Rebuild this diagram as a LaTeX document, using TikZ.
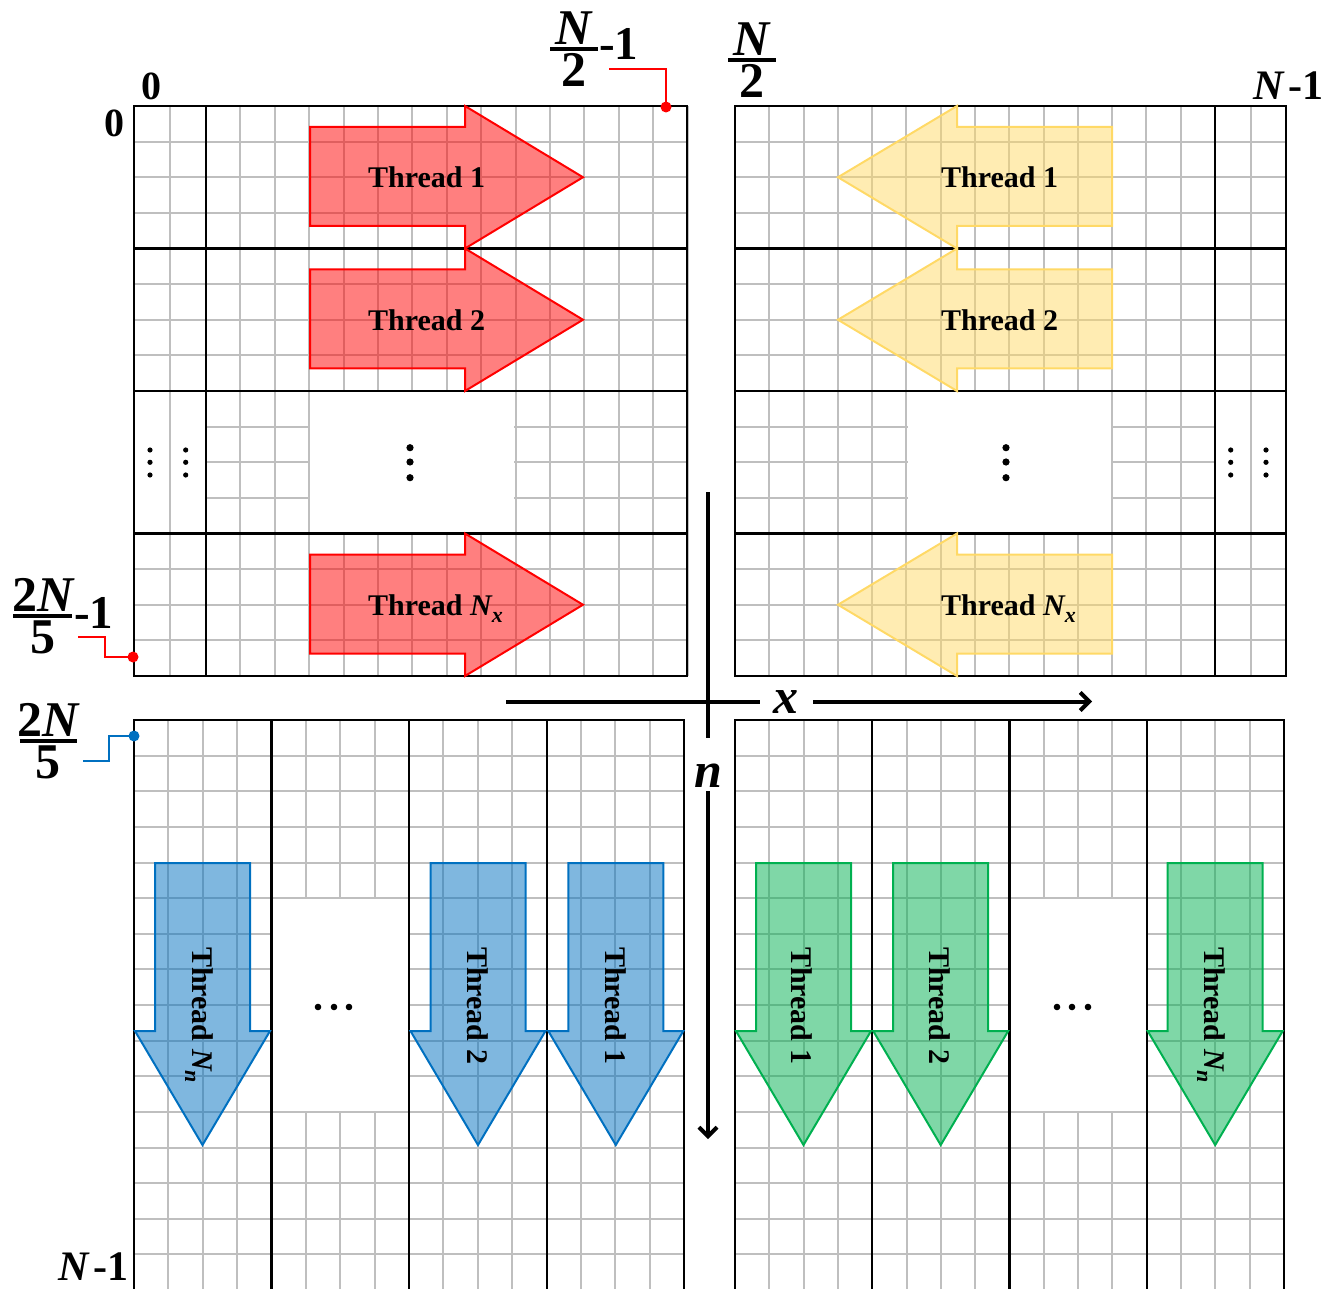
\documentclass[tikz,border=0pt]{standalone}
\usepackage{fontspec}
\setmainfont{Liberation Serif}
\usetikzlibrary{arrows.meta}
\definecolor{gridgray}{HTML}{BFBFBF}
\definecolor{redS}{HTML}{FF0000}
\definecolor{yelS}{HTML}{FFD966}
\definecolor{bluS}{HTML}{0070C0}
\definecolor{grnS}{HTML}{00B050}
\newcommand\RedArr[1]{\draw[redarr] (310,#1+21) -- (465,#1+21) -- (465,#1) -- (583,#1+71.25) -- (465,#1+142.5) -- (465,#1+120) -- (310,#1+120) -- cycle;}
\newcommand\YelArr[1]{\draw[yelarr] (1112,#1+21) -- (957,#1+21) -- (957,#1) -- (838,#1+71.25) -- (957,#1+142.5) -- (957,#1+120) -- (1112,#1+120) -- cycle;}
\newcommand\DownArr[2]{\draw[#2] (#1+21,863) -- (#1+116,863) -- (#1+116,1031) -- (#1+136,1031) -- (#1+68.5,1145) -- (#1+1,1031) -- (#1+21,1031) -- cycle;}
\newcommand\SubTx[1]{\raisebox{-7pt}{\fontsize{22}{26}\selectfont\bfseries\itshape #1}}
\newcommand\BI{\bfseries\itshape}
\newcommand\FracT[3]{\vbox{\offinterlineskip\halign{\hfil##\hfil\cr
  #1\cr
  \noalign{\kern2.5pt}
  \vrule height 4pt depth 0pt width #3\cr
  \noalign{\kern2.5pt}
  #2\cr}}}
\begin{document}
\begin{tikzpicture}[x=1pt,y=-1pt,
  grd/.style={draw=gridgray,line width=2pt},
  blk/.style={draw=black,line width=2.2pt},
  redarr/.style={draw=redS,fill=redS,fill opacity=0.5,line width=2pt},
  yelarr/.style={draw=yelS,fill=yelS,fill opacity=0.5,line width=2pt},
  bluarr/.style={draw=bluS,fill=bluS,fill opacity=0.5,line width=2pt},
  grnarr/.style={draw=grnS,fill=grnS,fill opacity=0.5,line width=2pt},
  thr/.style={inner sep=0pt,font=\fontsize{30}{36}\selectfont\bfseries},
  lab/.style={inner sep=0pt,text height=27pt,text depth=0pt,font=\fontsize{40}{48}\selectfont\bfseries},
  fracl/.style={inner sep=0pt,font=\fontsize{50}{58}\selectfont\bfseries},
  minus/.style={inner sep=0pt,text height=30pt,text depth=0pt,font=\fontsize{47}{54}\selectfont\bfseries},
  axl/.style={inner sep=0pt,text height=24pt,text depth=0pt,font=\fontsize{50}{60}\selectfont\bfseries\itshape},
  axis/.style={line width=4pt},
  conn/.style={line width=2.5pt}]
\useasboundingbox (0,0) rectangle (1342,1289);
% ---------- grids ----------
\foreach \i in {0,...,16}{\pgfmathsetmacro\xx{\i<3 ? 134+36*\i : 206+34.4*(\i-2)}\draw[grd] (\xx,106) -- (\xx,676);}
\foreach \j in {0,...,16}{\pgfmathsetmacro\yy{106+35.625*\j}\draw[grd] (134,\yy) -- (687,\yy);}
\foreach \i in {0,...,16}{\pgfmathsetmacro\xx{\i<15 ? 735+34.29*\i : 1215+35.5*(\i-14)}\draw[grd] (\xx,106) -- (\xx,676);}
\foreach \j in {0,...,16}{\pgfmathsetmacro\yy{106+35.625*\j}\draw[grd] (735,\yy) -- (1286,\yy);}
\foreach \i in {0,...,16}{\pgfmathsetmacro\xx{134+34.375*\i}\draw[grd] (\xx,720) -- (\xx,1295);}
\foreach \j in {0,...,16}{\pgfmathsetmacro\yy{720+35.625*\j}\draw[grd] (134,\yy) -- (684,\yy);}
\foreach \i in {0,...,16}{\pgfmathsetmacro\xx{735+34.31*\i}\draw[grd] (\xx,720) -- (\xx,1295);}
\foreach \j in {0,...,16}{\pgfmathsetmacro\yy{720+35.625*\j}\draw[grd] (735,\yy) -- (1284,\yy);}
% ---------- blank areas ----------
\fill[white] (310.4,392.2) rectangle (514.4,532.3);
\fill[white] (135.2,392.2) rectangle (204.8,532.3);
\draw[grd] (170,391) -- (170,533.5);
\fill[white] (907.6,392.2) rectangle (1111,532.3);
\fill[white] (1216.3,392.2) rectangle (1284.8,532.3);
\draw[grd] (1250.5,391) -- (1250.5,533.5);
\fill[white] (272.7,899.3) rectangle (407.8,1110.7);
\fill[white] (1010.7,899.3) rectangle (1145.5,1110.7);
% ---------- black frames ----------
\draw[blk] (134,106) rectangle (687,676);
\foreach \y in {248.5,391,533.5} \draw[blk] (134,\y) -- (687,\y);
\draw[blk] (206,106) -- (206,676);
\draw[blk] (735,106) rectangle (1286,676);
\foreach \y in {248.5,391,533.5} \draw[blk] (735,\y) -- (1286,\y);
\draw[blk] (1215,106) -- (1215,676);
\draw[blk] (134,1295) -- (134,720) -- (684,720) -- (684,1295);
\foreach \x in {271.5,409,546.6} \draw[blk] (\x,720) -- (\x,1295);
\draw[blk] (735,1295) -- (735,720) -- (1284,720) -- (1284,1295);
\foreach \x in {872.2,1009.5,1146.7} \draw[blk] (\x,720) -- (\x,1295);
% ---------- arrows ----------
\RedArr{106}
\RedArr{248.5}
\RedArr{533.5}
\YelArr{106}
\YelArr{248.5}
\YelArr{533.5}
\DownArr{134}{bluarr}
\DownArr{409.5}{bluarr}
\DownArr{547.3}{bluarr}
\DownArr{735}{grnarr}
\DownArr{872.2}{grnarr}
\DownArr{1146.7}{grnarr}
% ---------- thread labels ----------
\node[thr,anchor=base west] (r1) at (368,188) {Thread 1};
\node[thr,anchor=base west] (r2) at (368,330.5) {Thread 2};
\node[thr,anchor=base west] (r3) at (368,615.5) {Thread {\BI N}\SubTx{x}};
\node[thr,anchor=base west] (y1) at (941,188) {Thread 1};
\node[thr,anchor=base west] (y2) at (941,330.5) {Thread 2};
\node[thr,anchor=base west] (y3) at (941,615.5) {Thread {\BI N}\SubTx{x}};
\node[thr,rotate=-90,anchor=base west] (b1) at (192,947) {Thread {\BI N}\SubTx{n}};
\node[thr,rotate=-90,anchor=base west] (b2) at (467,947) {Thread 2};
\node[thr,rotate=-90,anchor=base west] (b3) at (605,947) {Thread 1};
\node[thr,rotate=-90,anchor=base west] (g1) at (791,947) {Thread 1};
\node[thr,rotate=-90,anchor=base west] (g2) at (929,947) {Thread 2};
\node[thr,rotate=-90,anchor=base west] (g3) at (1204,947) {Thread {\BI N}\SubTx{n}};
% ---------- dots ----------
\foreach \y in {447.7,462,477.7}{\fill (410,\y) circle (3.6); \fill (1006,\y) circle (3.6);}
\foreach \y in {450,462.3,475}{\foreach \x in {150,185.7,1230.7,1266}{\fill (\x,\y) circle (2.6);}}
\foreach \x in {318,334,349}{\fill (\x,1007) circle (3.3);}
\foreach \x in {1057,1072,1088}{\fill (\x,1007) circle (3.3);}
% ---------- index labels ----------
\node[lab,anchor=base] (z1) at (151,100) {0};
\node[lab,anchor=base] (z2) at (114,137) {0};
\node[lab,font=\fontsize{42}{50}\selectfont\bfseries,anchor=base east] (ntr) at (1324,100) {{\itshape N}\hspace{0.12em}-1};
\node[lab,font=\fontsize{42}{50}\selectfont\bfseries,anchor=base east] (nbl) at (129,1280) {{\itshape N}\hspace{0.12em}-1};
% N/2 - 1
\node[fracl,anchor=base] (f1) at (574,87) {\FracT{\itshape N}{2}{48pt}};
\node[minus,anchor=base west] (f1m) at (599,60) {-1};
\coordinate (p1a) at (609,69);
\coordinate (p1b) at (666,107);
\draw[conn,redS] (p1a) -| (p1b);
\fill[redS] (p1b) circle (5.5);
% N/2
\node[fracl,anchor=base] (f2) at (752,98) {\FracT{\itshape N}{2}{48pt}};
% 2N/5 - 1
\node[fracl,anchor=base] (f3) at (43,653) {\FracT{2{\itshape N}}{5}{59pt}};
\node[minus,anchor=base west] (f3m) at (74,628) {-1};
\coordinate (p3a) at (78,637);
\coordinate (p3m) at (105,647);
\coordinate (p3b) at (133,657);
\draw[conn,redS] (p3a) -| (p3m) |- (p3b);
\fill[redS] (p3b) circle (5.5);
% 2N/5
\node[fracl,anchor=base] (f4) at (48,778) {\FracT{2{\itshape N}}{5}{57pt}};
\coordinate (p4a) at (83,761);
\coordinate (p4m) at (109,748);
\coordinate (p4b) at (134,736);
\draw[conn,bluS] (p4a) -| (p4m) |- (p4b);
\fill[bluS] (p4b) circle (5.5);
% ---------- axes ----------
\node[axl,anchor=base] (xl) at (786,713) {x};
\node[axl,anchor=base] (nl) at (708,787) {n};
\coordinate (xa) at (506,701.5);
\coordinate (xb) at (760,701.5);
\coordinate (xc) at (813,701.5);
\coordinate (xd) at (1092,701.5);
\coordinate (na) at (708,492);
\coordinate (nb) at (708,738);
\coordinate (nc) at (708,791);
\coordinate (nd) at (708,1139);
\draw[axis] (xa) -- (xb);
\draw[axis,-{Straight Barb[length=9pt,width=18pt]}] (xc) -- (xd);
\draw[axis] (na) -- (nb);
\draw[axis,-{Straight Barb[length=9pt,width=18pt]}] (nc) -- (nd);
\end{tikzpicture}
\end{document}
